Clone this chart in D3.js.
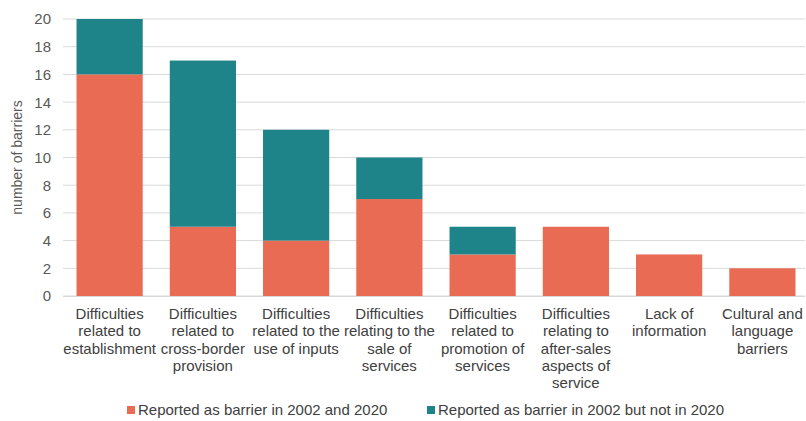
<!DOCTYPE html>
<html>
<head>
<meta charset="utf-8">
<script src="https://cdn.jsdelivr.net/npm/d3@7"></script>
<style>
  body { margin: 0; background: #fff; }
  text { font-family: "Liberation Sans", Arial, sans-serif; }
</style>
</head>
<body>
<div id="chart"></div>
<script>
// chart data
const categories = [
  ["Difficulties", "related to", "establishment"],
  ["Difficulties", "related to", "cross-border", "provision"],
  ["Difficulties", "related to the", "use of inputs"],
  ["Difficulties", "relating to the", "sale of", "services"],
  ["Difficulties", "related to", "promotion of", "services"],
  ["Difficulties", "relating to", "after-sales", "aspects of", "service"],
  ["Lack of", "information"],
  ["Cultural and", "language", "barriers"]
];
const both = [16, 5, 4, 7, 3, 5, 3, 2];
const onlyIn2002 = [4, 12, 8, 3, 2, 0, 0, 0];
const seriesNames = ["Reported as barrier in 2002 and 2020", "Reported as barrier in 2002 but not in 2020"];
const colors = ["#e96b53", "#1e8489"];
const yTicks = [0, 2, 4, 6, 8, 10, 12, 14, 16, 18, 20];

const width = 806, height = 421;
const svg = d3.select("#chart").append("svg")
  .attr("width", width)
  .attr("height", height);

const x = d3.scaleBand()
  .domain(d3.range(categories.length))
  .range([63, 809])
  .paddingInner(0.29)
  .paddingOuter(0.145);

const y = d3.scaleLinear()
  .domain([0, 20])
  .range([296, 19]);

// gridlines
svg.append("g")
  .selectAll("line")
  .data(yTicks)
  .join("line")
  .attr("x1", 63)
  .attr("x2", 805)
  .attr("y1", d => y(d))
  .attr("y2", d => y(d))
  .attr("stroke", "#d9d9d9")
  .attr("stroke-width", 1);

// y tick labels
svg.append("g")
  .selectAll("text")
  .data(yTicks)
  .join("text")
  .attr("x", 51)
  .attr("y", d => y(d))
  .attr("dy", "0.36em")
  .attr("text-anchor", "end")
  .attr("font-size", 15)
  .attr("fill", "#595959")
  .text(d => d);

svg.append("text")
  .attr("transform", "translate(22," + y(10) + ") rotate(-90)")
  .attr("text-anchor", "middle")
  .attr("font-size", 14)
  .attr("fill", "#595959")
  .text("number of barriers");

// stacked bars
const rows = categories.map((c, i) => ({i: i, a: both[i], b: onlyIn2002[i]}));
const stack = d3.stack().keys(["a", "b"])(rows);

svg.append("g")
  .selectAll("g")
  .data(stack)
  .join("g")
  .attr("fill", (d, k) => colors[k])
  .selectAll("rect")
  .data(d => d.filter(s => s[1] > s[0]))
  .join("rect")
  .attr("x", d => x(d.data.i))
  .attr("width", x.bandwidth())
  .attr("y", d => y(d[1]))
  .attr("height", d => y(d[0]) - y(d[1]));

// x axis line
svg.append("line")
  .attr("x1", 63)
  .attr("x2", 805)
  .attr("y1", y(0) + 0.5)
  .attr("y2", y(0) + 0.5)
  .attr("stroke", "#d9d9d9");

// category labels
const lab = svg.append("g")
  .selectAll("text")
  .data(categories)
  .join("text")
  .attr("text-anchor", "middle")
  .attr("font-size", 15)
  .attr("fill", "#404040")
  .attr("x", (d, i) => x(i) + x.bandwidth() / 2);

lab.selectAll("tspan")
  .data(d => d)
  .join("tspan")
  .attr("x", function() { return this.parentNode.getAttribute("x"); })
  .attr("y", (d, j) => 319 + j * 17.3)
  .text(d => d);

// legend
const legendX = [127, 427];
const leg = svg.append("g")
  .selectAll("g")
  .data(seriesNames)
  .join("g")
  .attr("transform", (d, k) => "translate(" + legendX[k] + ",415)");

leg.append("rect")
  .attr("x", 0)
  .attr("y", -9)
  .attr("width", 8)
  .attr("height", 8)
  .attr("fill", (d, k) => colors[k]);

leg.append("text")
  .attr("x", 11)
  .attr("y", 0)
  .attr("font-size", 15)
  .attr("fill", "#404040")
  .text(d => d);
</script>
</body>
</html>
